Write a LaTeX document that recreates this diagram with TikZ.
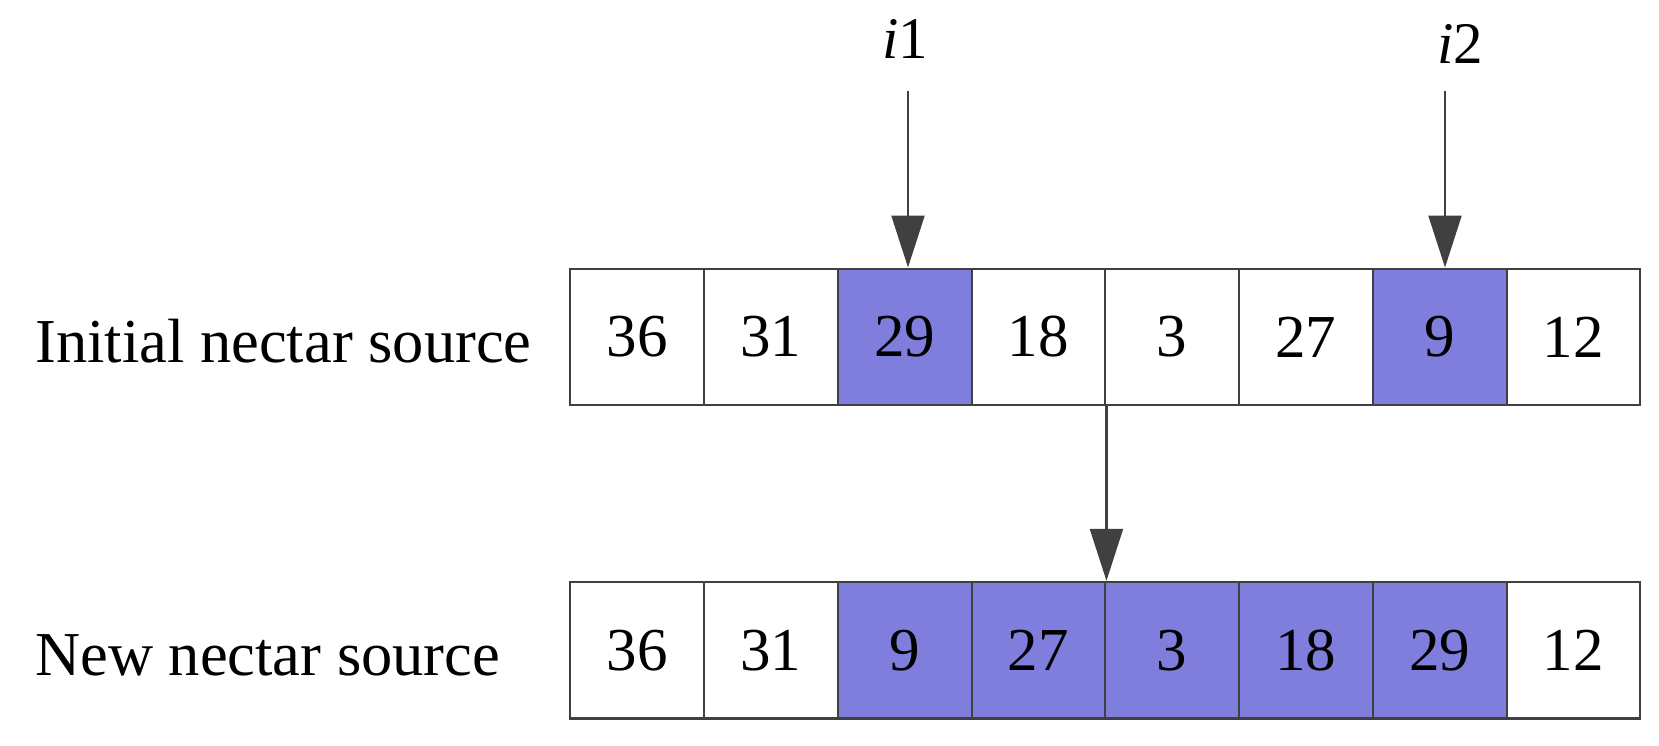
\documentclass[tikz,border=0pt]{standalone}
\usepackage{fontspec}
\setmainfont{Liberation Serif}
\usetikzlibrary{arrows.meta}
\definecolor{cellfill}{RGB}{128,126,220}
\definecolor{linegray}{RGB}{64,64,64}
\tikzset{
  cell/.style={draw=linegray, line width=2.2pt, minimum width=133.75pt, minimum height=136.5pt, inner sep=0pt, anchor=north west, font=\fontsize{61}{68}\selectfont},
  hl/.style={fill=cellfill},
  lbl/.style={anchor=base west, inner sep=0pt, font=\fontsize{62.5}{70}\selectfont},
  idx/.style={anchor=base, inner sep=0pt, font=\fontsize{59}{66}\selectfont},
  arr/.style={draw=linegray, line width=2.2pt, -{Triangle[length=52pt,width=33pt]}, shorten >=0pt}
}
\begin{document}
\begin{tikzpicture}[x=1pt,y=-1pt]
\useasboundingbox (0,0) rectangle (1659,745);
% top row
\node[cell]     (t1) at (569.25,267.5) {36};
\node[cell]     (t2) at (703.0,267.5) {31};
\node[cell,hl]  (t3) at (836.75,267.5) {29};
\node[cell]     (t4) at (970.5,267.5) {18};
\node[cell]     (t5) at (1104.25,267.5) {3};
\node[cell]     (t6) at (1238.0,267.5) {27};
\node[cell,hl]  (t7) at (1371.75,267.5) {9};
\node[cell]     (t8) at (1505.5,267.5) {12};
% bottom row
\node[cell]     (b1) at (569.25,580.8) {36};
\node[cell]     (b2) at (703.0,580.8) {31};
\node[cell,hl]  (b3) at (836.75,580.8) {9};
\node[cell,hl]  (b4) at (970.5,580.8) {27};
\node[cell,hl]  (b5) at (1104.25,580.8) {3};
\node[cell,hl]  (b6) at (1238.0,580.8) {18};
\node[cell,hl]  (b7) at (1371.75,580.8) {29};
\node[cell]     (b8) at (1505.5,580.8) {12};
% labels
\node[lbl] (li) at (35,362) {Initial nectar source};
\node[lbl] (ln) at (35,675) {New nectar source};
\node[idx] (i1) at (905,58) {\textit{i}1};
\node[idx] (i2) at (1460,63) {\textit{i}2};
% arrows
\coordinate (a1) at (908,91);
\coordinate (a2) at (1445,91);
\draw[arr] (a1) -- (a1 |- t3.north);
\draw[arr] (a2) -- (a2 |- t7.north);
\draw[arr] (t4.south east) -- (b4.north east);
\end{tikzpicture}
\end{document}
